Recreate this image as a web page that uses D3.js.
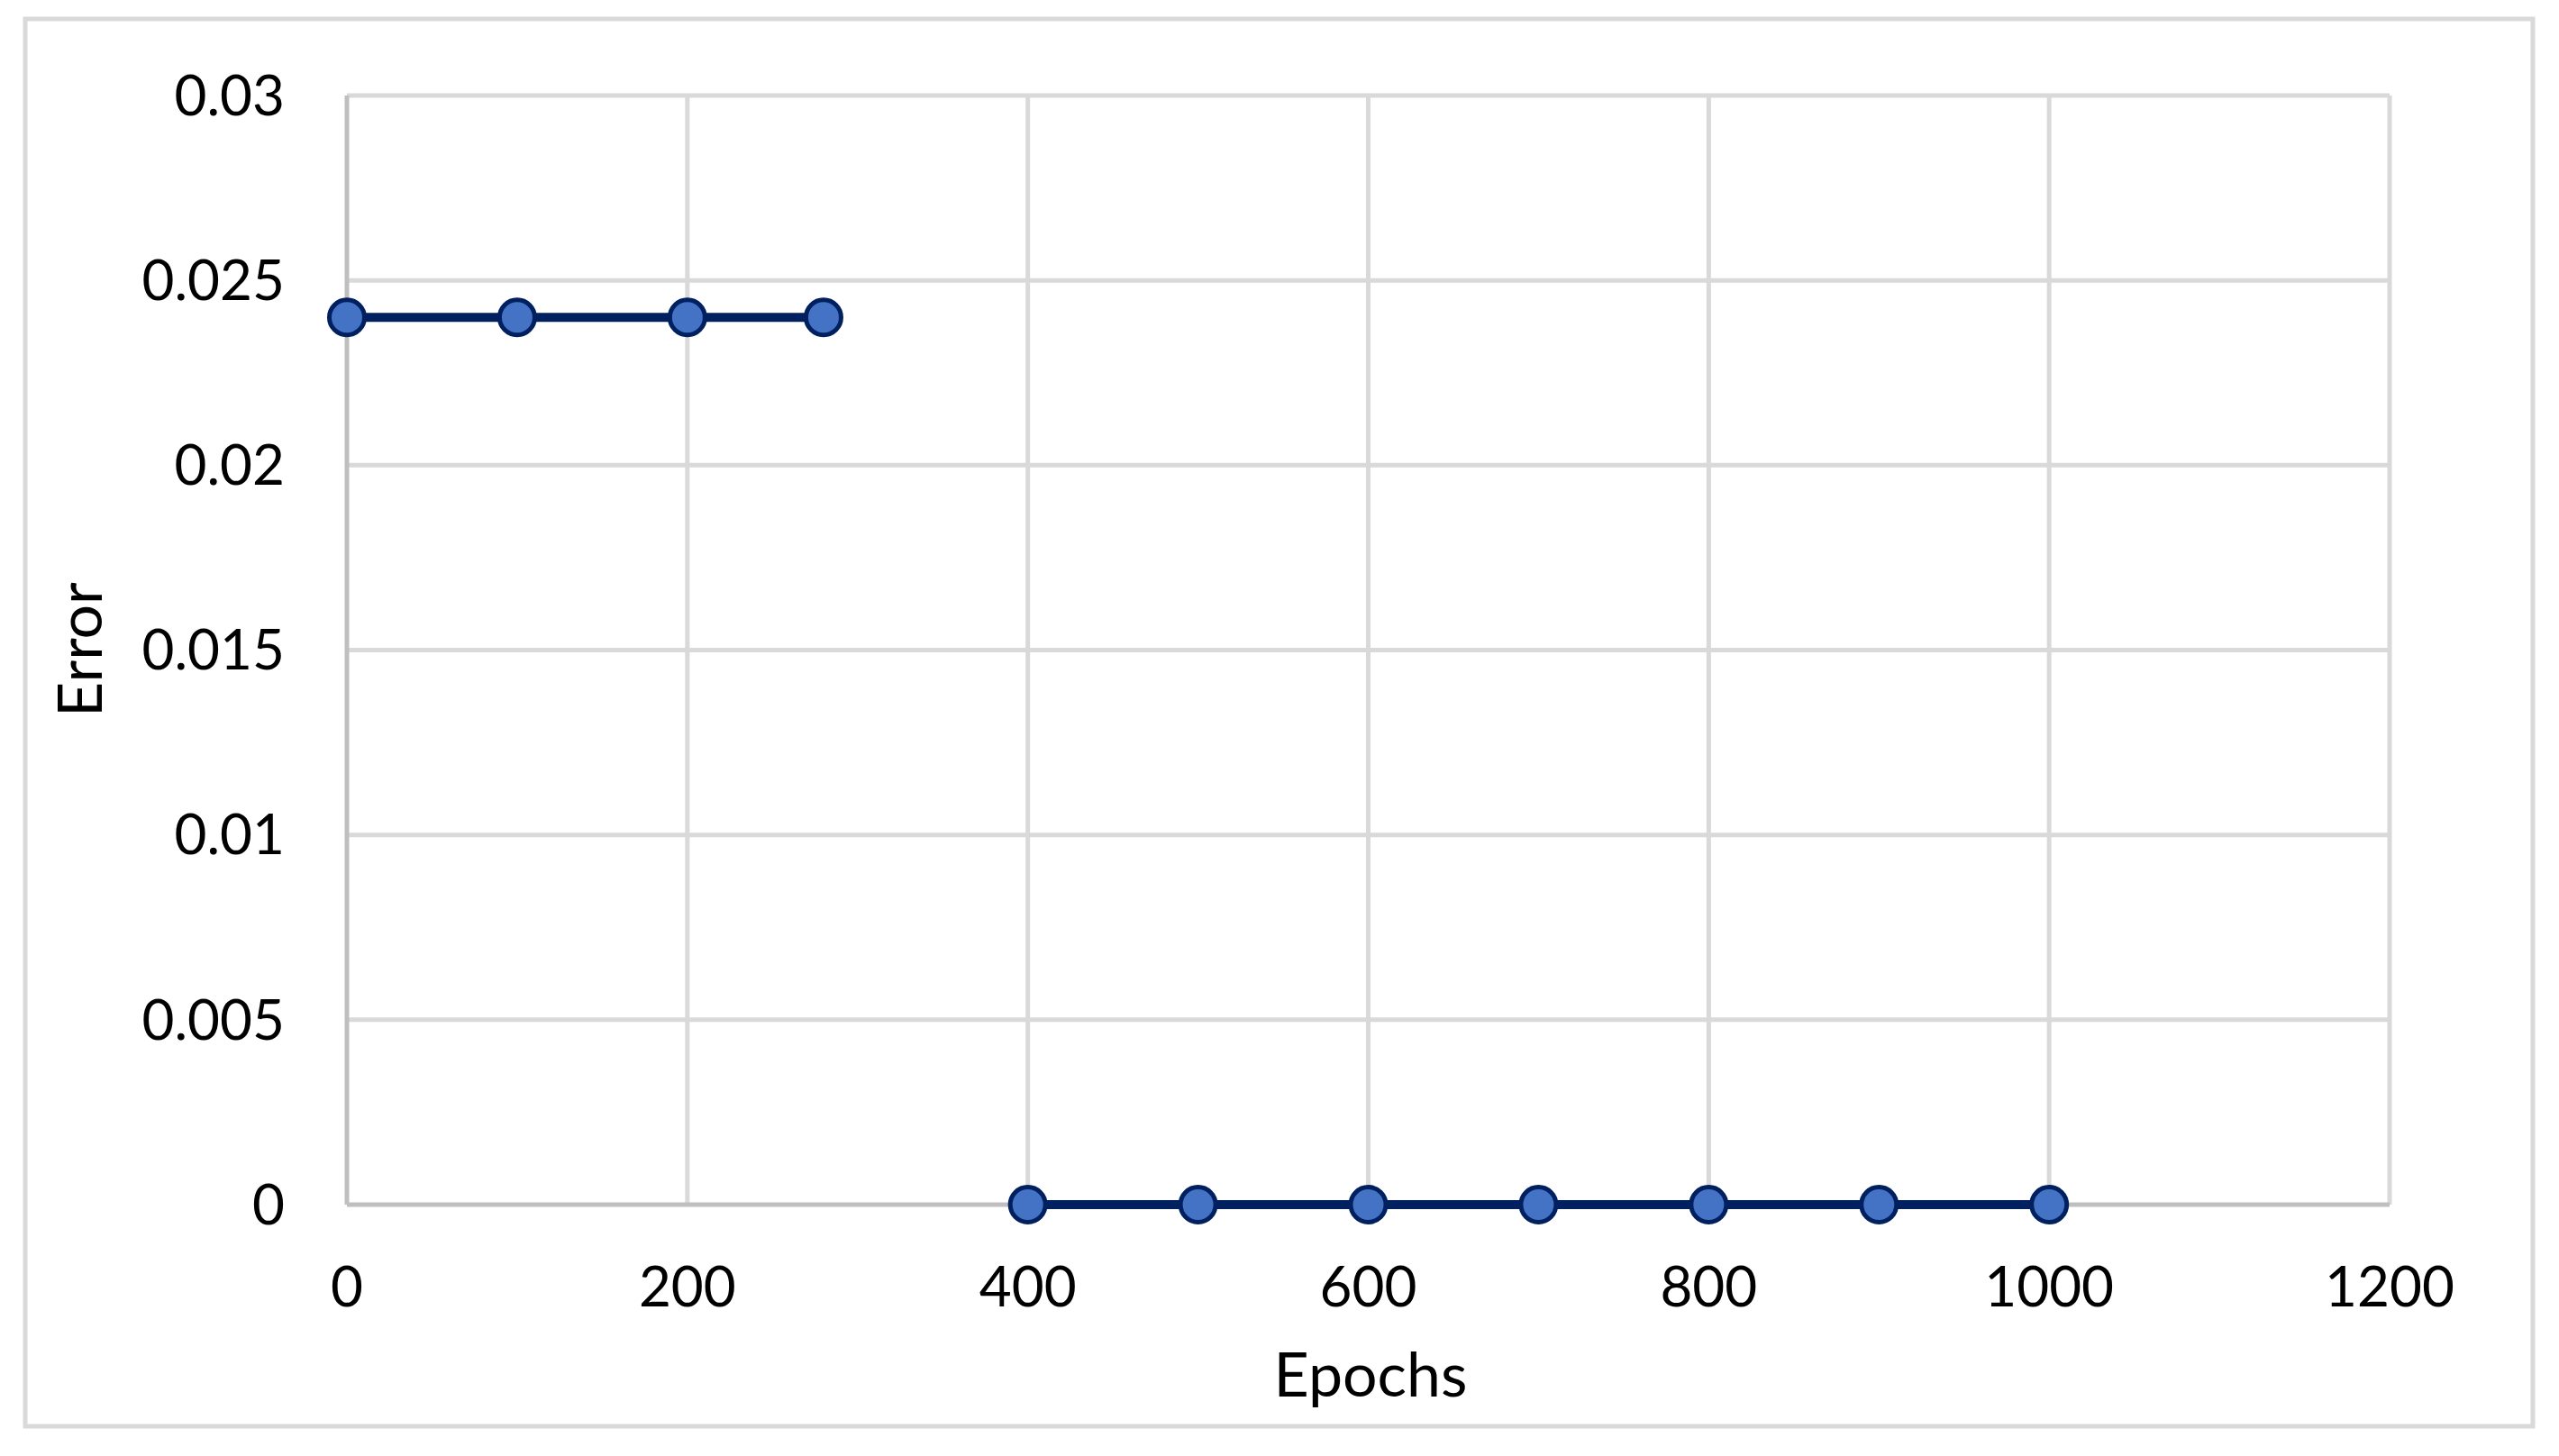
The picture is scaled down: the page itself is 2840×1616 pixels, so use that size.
<!DOCTYPE html>
<html>
<head>
<meta charset="utf-8">
<script src="https://cdn.jsdelivr.net/npm/d3@7"></script>
<style>
  html, body { margin: 0; padding: 0; background: #fff; }
  svg { display: block; }
  text { font-family: Lato, "Open Sans", sans-serif; fill: #000; }
</style>
</head>
<body>
<svg id="chart" width="2840" height="1616"></svg>
<script>
// Data
const seriesA_epochs = [0, 100, 200, 280];
const seriesA_error = [0.024, 0.024, 0.024, 0.024];
const seriesB_epochs = [400, 500, 600, 700, 800, 900, 1000];
const seriesB_error = [0, 0, 0, 0, 0, 0, 0];
const xTicks = [0, 200, 400, 600, 800, 1000, 1200];
const yTicks = [0, 0.005, 0.01, 0.015, 0.02, 0.025, 0.03];
const yTickLabels = ["0", "0.005", "0.01", "0.015", "0.02", "0.025", "0.03"];
const xTitle = "Epochs";
const yTitle = "Error";

const svg = d3.select("#chart");
const W = 2840, H = 1616;
const plot = { left: 385, right: 2652, top: 106, bottom: 1337 };

svg.append("rect").attr("x", 0).attr("y", 0).attr("width", W).attr("height", H).attr("fill", "#fff");
// outer border
svg.append("rect").attr("x", 28).attr("y", 21).attr("width", 2783).attr("height", 1562)
  .attr("fill", "none").attr("stroke", "#d9d9d9").attr("stroke-width", 5);

const x = d3.scaleLinear().domain([0, 1200]).range([plot.left, plot.right]);
const y = d3.scaleLinear().domain([0, 0.03]).range([plot.bottom, plot.top]);

// gridlines
const g = svg.append("g");
g.selectAll(".hgrid").data(yTicks.filter(d => d !== 0)).enter().append("line")
  .attr("x1", plot.left).attr("x2", plot.right)
  .attr("y1", d => y(d)).attr("y2", d => y(d))
  .attr("stroke", "#d9d9d9").attr("stroke-width", 5);
g.selectAll(".vgrid").data(xTicks.filter(d => d !== 0)).enter().append("line")
  .attr("x1", d => x(d)).attr("x2", d => x(d))
  .attr("y1", plot.top).attr("y2", plot.bottom)
  .attr("stroke", "#d9d9d9").attr("stroke-width", 5);

// axes lines
svg.append("line").attr("x1", x(0)).attr("x2", x(0)).attr("y1", plot.top).attr("y2", plot.bottom)
  .attr("stroke", "#bfbfbf").attr("stroke-width", 5);
svg.append("line").attr("x1", plot.left).attr("x2", plot.right).attr("y1", y(0)).attr("y2", y(0))
  .attr("stroke", "#bfbfbf").attr("stroke-width", 5);

// tick labels
svg.selectAll(".ylab").data(yTicks).enter().append("text")
  .attr("x", 316).attr("y", d => y(d))
  .attr("dy", "0.35em")
  .attr("text-anchor", "end")
  .attr("font-size", 62)
  .text((d, i) => yTickLabels[i]);
svg.selectAll(".xlab").data(xTicks).enter().append("text")
  .attr("x", d => x(d)).attr("y", 1450)
  .attr("text-anchor", "middle")
  .attr("font-size", 62)
  .text(d => d);

// titles
svg.append("text").attr("x", 1521).attr("y", 1550).attr("text-anchor", "middle")
  .attr("font-size", 68).text(xTitle);
svg.append("text").attr("transform", "translate(113,721) rotate(-90)")
  .attr("text-anchor", "middle").attr("font-size", 68).text(yTitle);

// series
const series = [
  seriesA_epochs.map((e, i) => ({ x: e, y: seriesA_error[i] })),
  seriesB_epochs.map((e, i) => ({ x: e, y: seriesB_error[i] }))
];
const line = d3.line().x(d => x(d.x)).y(d => y(d.y));
series.forEach(s => {
  svg.append("path").datum(s).attr("d", line)
    .attr("fill", "none").attr("stroke", "#002060").attr("stroke-width", 10);
});
series.forEach(s => {
  svg.selectAll(null).data(s).enter().append("circle")
    .attr("cx", d => x(d.x)).attr("cy", d => y(d.y)).attr("r", 19.5)
    .attr("fill", "#4472c4").attr("stroke", "#002060").attr("stroke-width", 5);
});
</script>
</body>
</html>
